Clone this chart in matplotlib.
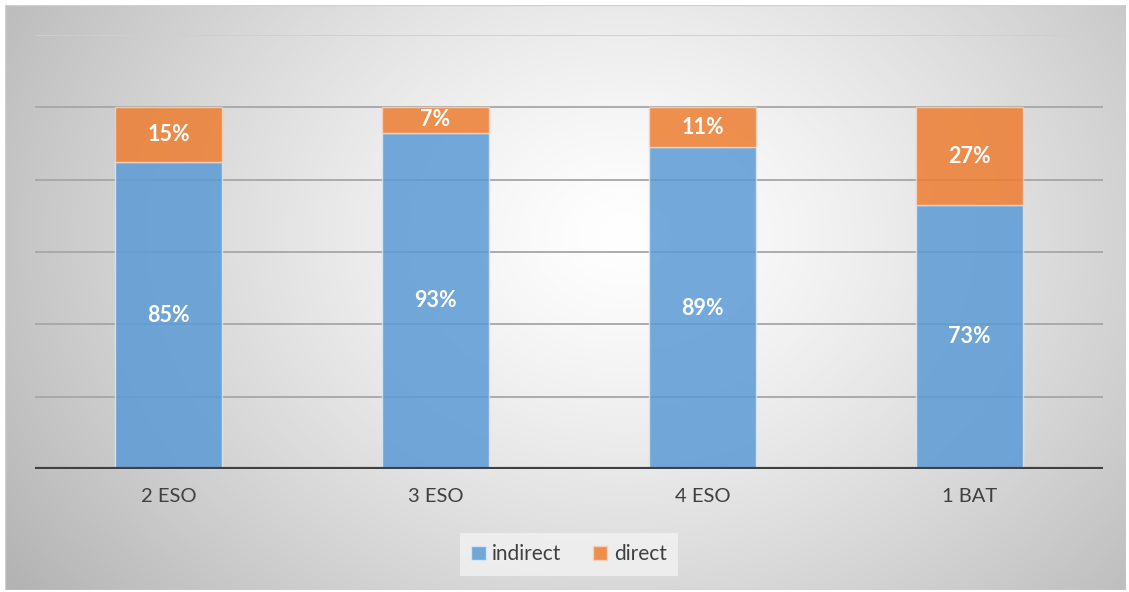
import numpy as np
import matplotlib.pyplot as plt
from matplotlib.patches import Rectangle

categories = ["2 ESO", "3 ESO", "4 ESO", "1 BAT"]
indirect = [85, 93, 89, 73]
direct = [15, 7, 11, 27]

plt.rcParams['font.family'] = ['Lato', 'DejaVu Sans']

W, H = 1129, 592
fig = plt.figure(figsize=(W / 100, H / 100), dpi=100)
fig.patch.set_facecolor('white')

# radial gradient background of the chart area
bg = fig.add_axes([5 / W, 1 - 590 / H, 1121 / W, 585 / H])
yy, xx = np.mgrid[0:585, 0:1121]
cx, cy = 620, 230
r = np.sqrt(((xx - cx) / 680.0) ** 2 + ((yy - cy) / 540.0) ** 2)
val = 1.0 - 0.26 * np.clip(r, 0, 1.2) ** 1.3
img = np.dstack([val, val, val])
bg.imshow(img, aspect='auto', extent=[0, 1, 0, 1], interpolation='bilinear')
bg.set_axis_off()
bg.add_patch(Rectangle((0, 0), 1, 1, transform=bg.transAxes, fill=False,
                       edgecolor='#d0d0d0', linewidth=1))

left, right = 35, 1103
top, bottom = 35, 469
ax = fig.add_axes([left / W, 1 - bottom / H, (right - left) / W, (bottom - top) / H])
ax.set_facecolor('none')

x = np.arange(len(categories))
ax.set_xlim(-0.5, len(categories) - 0.5)
ax.set_ylim(0, 120)

for g in [20, 40, 60, 80, 100]:
    ax.axhline(g, color='#a6a6a6', linewidth=1.3, zorder=1)
ax.axhline(120, color='#cfcfcf', linewidth=1.3, zorder=1)

bw = 0.4
ax.bar(x, indirect, bw, color='#5B9BD5', alpha=0.85, edgecolor='#dbe8f5',
       linewidth=1.0, zorder=2, label='indirect')
ax.bar(x, direct, bw, bottom=indirect, color='#ED7D31', alpha=0.85,
       edgecolor='#f7d3bb', linewidth=1.0, zorder=2, label='direct')

for i in range(len(categories)):
    ax.text(x[i], indirect[i] / 2, f"{indirect[i]}%", ha='center', va='center',
            color='white', fontsize=15.5, fontweight='bold', zorder=3)
    ax.text(x[i], indirect[i] + direct[i] / 2, f"{direct[i]}%", ha='center',
            va='center', color='white', fontsize=15.5, fontweight='bold', zorder=3)

ax.axhline(0, color='#404040', linewidth=3, zorder=4)
for s in ax.spines.values():
    s.set_visible(False)
ax.set_yticks([])
ax.set_xticks(x)
ax.set_xticklabels(categories, fontsize=14.5, color='#404040')
ax.tick_params(axis='x', length=0, pad=14)

leg = ax.legend(loc='upper center', bbox_to_anchor=(0.5, -0.123), ncol=2,
                frameon=True, fontsize=15, handlelength=0.7, handleheight=0.7,
                handletextpad=0.3, columnspacing=1.5, borderpad=0.55,
                fancybox=False)
leg.get_frame().set_facecolor('#f2f2f2')
leg.get_frame().set_edgecolor('none')
leg.get_frame().set_alpha(0.8)
for t in leg.get_texts():
    t.set_color('#404040')

fig.savefig('out.png', dpi=100, facecolor=fig.get_facecolor())
